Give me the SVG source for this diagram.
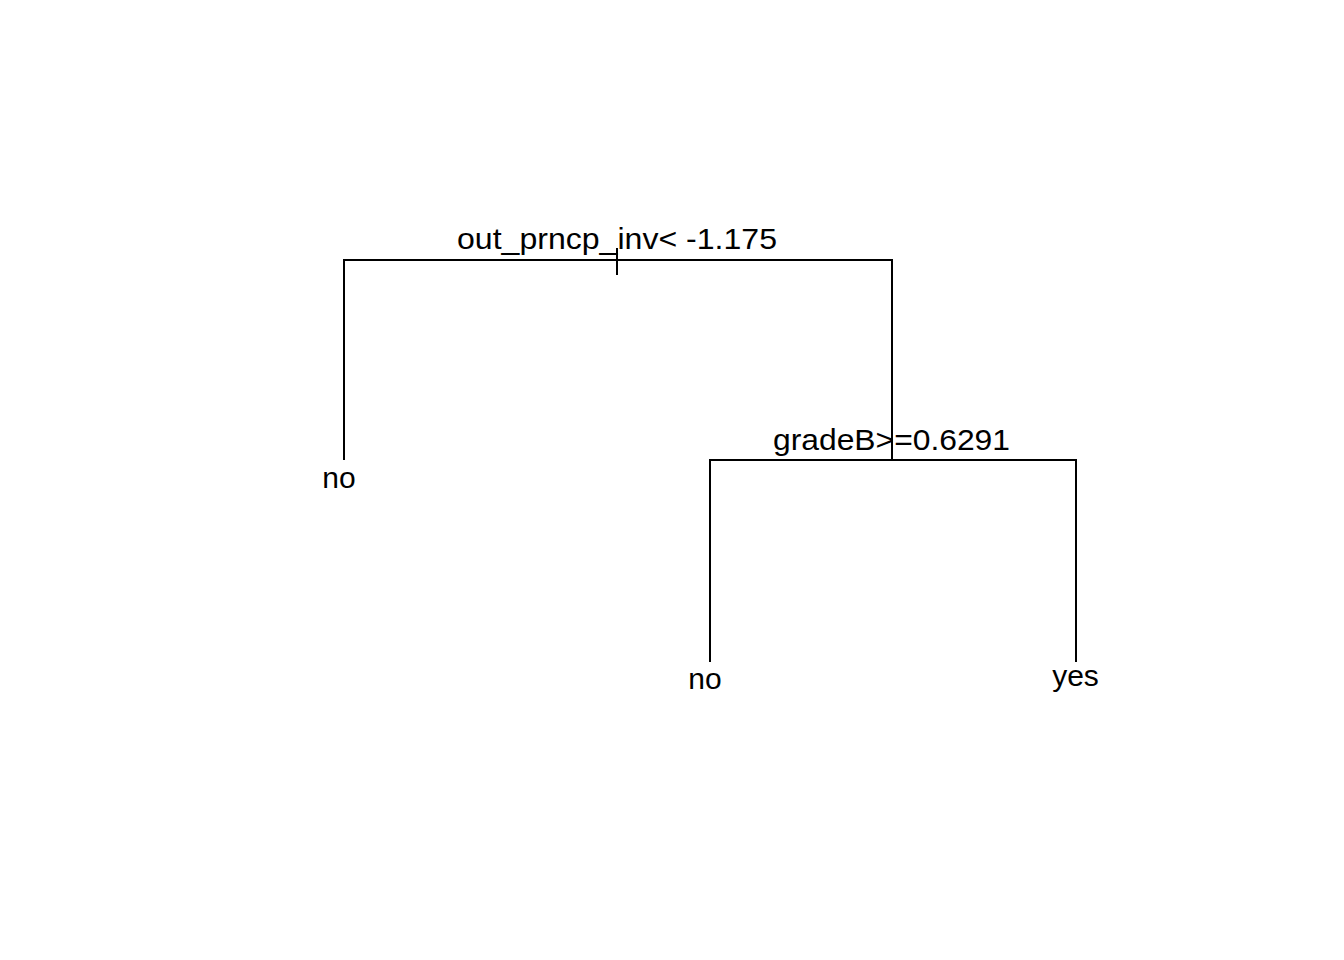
<svg xmlns="http://www.w3.org/2000/svg" width="1344" height="960" viewBox="0 0 1344 960">
<style>
.l{stroke:#000;stroke-width:2;fill:none;stroke-linecap:butt}
.t{font-family:"Liberation Sans",Arial,sans-serif;font-size:30px;fill:#000;text-anchor:middle}
</style>
<rect width="1344" height="960" fill="#fff"/>
<g id="connectors">
<path class="l" d="M344 460V260H892V460"/>
<path class="l" d="M617 248V275"/>
<path class="l" d="M710 662V460H1076V662"/>
</g>
<g id="split1"><text class="t" x="617" y="249" textLength="320" lengthAdjust="spacingAndGlyphs">out_prncp_inv&lt; -1.175</text></g>
<g id="split2"><text class="t" x="891.5" y="450" textLength="237" lengthAdjust="spacingAndGlyphs">gradeB&gt;=0.6291</text></g>
<g id="leaf1"><text class="t" x="339" y="488">no</text></g>
<g id="leaf2"><text class="t" x="705" y="689">no</text></g>
<g id="leaf3"><text class="t" x="1075.5" y="686">yes</text></g>
</svg>
